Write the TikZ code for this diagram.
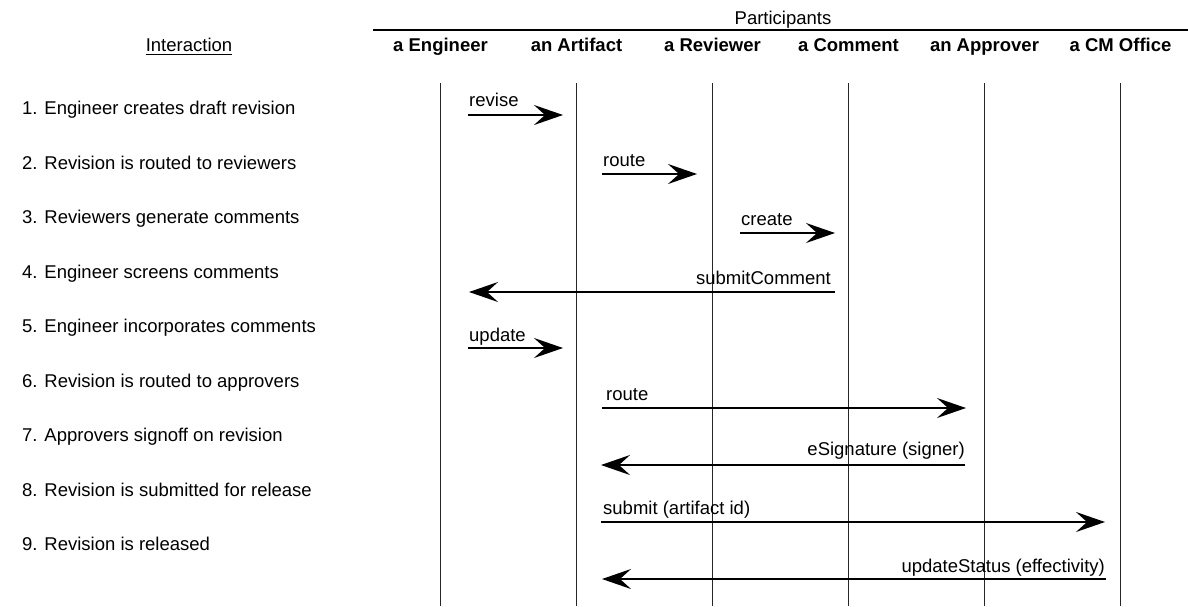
\documentclass[tikz,border=0pt]{standalone}
\usepackage{fontspec}
\setmainfont{Liberation Sans}
\usetikzlibrary{arrows.meta}
\begin{document}
\begin{tikzpicture}[x=1pt,y=-1pt,
  lbl/.style={font=\fontsize{18.5}{20}\selectfont, inner sep=0pt},
  hdr/.style={font=\fontsize{18.5}{20}\selectfont\bfseries, inner sep=0pt},
  lifeline/.style={line width=1.1pt, black!85},
  msg/.style={line width=2pt, -{Stealth[length=29pt,width=20pt,inset=11pt]}},
]
\useasboundingbox (0,0) rectangle (1188,606);

% column headings
\node[lbl, anchor=base] (part) at (783,24.5) {Participants};
\draw[line width=2pt] (373,30) -- (1188,30);
\node[lbl, anchor=base] (inter) at (189,51.5) {Interaction};
\draw[line width=1pt] ([yshift=-3pt]inter.base west) -- ([yshift=-3pt]inter.base east);

% participants and their lifelines
\foreach \n/\t [count=\i from 0] in {eng/a Engineer, art/an Artifact, rev/a Reviewer,
    com/a Comment, app/an Approver, cmo/a CM Office}{
  \pgfmathsetmacro{\xx}{440.5+136*\i}
  \node[hdr, anchor=base] (h-\n) at (\xx,51.5) {\t};
  \coordinate (\n-top) at (\xx,83);
  \coordinate (\n-bot) at (\xx,606);
  \draw[lifeline] (\n-top) -- (\n-bot);
}

% interaction steps
\foreach \t [count=\i] in {
  1. Engineer creates draft revision,
  2. Revision is routed to reviewers,
  3. Reviewers generate comments,
  4. Engineer screens comments,
  5. Engineer incorporates comments,
  6. Revision is routed to approvers,
  7. Approvers signoff on revision,
  8. Revision is submitted for release,
  9. Revision is released}{
  \node[lbl, anchor=base west] (step-\i) at (22,{114.5+54.5*(\i-1)}) {\t};
}

% message end points
\coordinate (m1a) at (468,115);   \coordinate (m1b) at (563,115);
\coordinate (m2a) at (602,174);   \coordinate (m2b) at (697,174);
\coordinate (m3a) at (740,233);   \coordinate (m3b) at (835,233);
\coordinate (m4a) at (835,292);   \coordinate (m4b) at (469,292);
\coordinate (m5a) at (468,348);   \coordinate (m5b) at (563,348);
\coordinate (m6a) at (602,408);   \coordinate (m6b) at (966,408);
\coordinate (m7a) at (965,465);   \coordinate (m7b) at (601,465);
\coordinate (m8a) at (601,522);   \coordinate (m8b) at (1105,522);
\coordinate (m9a) at (1106,579);  \coordinate (m9b) at (602,579);

% messages
\draw[msg] (m1a) -- (m1b);
\node[lbl, anchor=base west] (t1) at ([shift={(1pt,9pt)}]m1a) {revise};
\draw[msg] (m2a) -- (m2b);
\node[lbl, anchor=base west] (t2) at ([shift={(1pt,8pt)}]m2a) {route};
\draw[msg] (m3a) -- (m3b);
\node[lbl, anchor=base west] (t3) at ([shift={(1pt,8pt)}]m3a) {create};
\draw[msg] (m4a) -- (m4b);
\node[lbl, anchor=base east] (t4) at ([shift={(-4pt,8pt)}]m4a) {submitComment};
\draw[msg] (m5a) -- (m5b);
\node[lbl, anchor=base west] (t5) at ([shift={(1pt,7pt)}]m5a) {update};
\draw[msg] (m6a) -- (m6b);
\node[lbl, anchor=base west] (t6) at ([shift={(4pt,8pt)}]m6a) {route};
\draw[msg] (m7a) -- (m7b);
\node[lbl, anchor=base east] (t7) at ([shift={(0pt,10pt)}]m7a) {eSignature (signer)};
\draw[msg] (m8a) -- (m8b);
\node[lbl, anchor=base west] (t8) at ([shift={(2pt,8pt)}]m8a) {submit (artifact id)};
\draw[msg] (m9a) -- (m9b);
\node[lbl, anchor=base east] (t9) at ([shift={(-1pt,7pt)}]m9a) {updateStatus (effectivity)};
\end{tikzpicture}
\end{document}
